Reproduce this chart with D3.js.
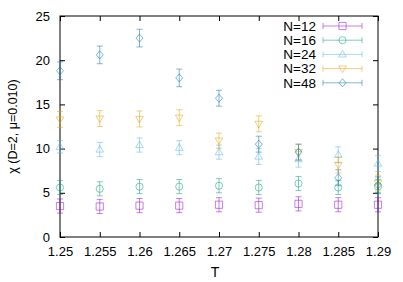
<!DOCTYPE html>
<html>
<head>
<meta charset="utf-8">
<script src="https://cdn.jsdelivr.net/npm/d3@7"></script>
<style>
  body { margin: 0; background: #fff; }
  text { font-family: "Liberation Sans", Arial, sans-serif; fill: #000; }
</style>
</head>
<body>
<script>
// data
var temps = [1.25, 1.255, 1.26, 1.265, 1.27, 1.275, 1.28, 1.285, 1.29];
var xTicks = [1.25, 1.255, 1.26, 1.265, 1.27, 1.275, 1.28, 1.285, 1.29];
var yTicks = [0, 5, 10, 15, 20, 25];

var chiN12 = [3.5, 3.45, 3.55, 3.55, 3.65, 3.6, 3.75, 3.65, 3.65];
var errN12 = [0.8, 0.8, 0.8, 0.8, 0.8, 0.8, 0.8, 0.8, 0.8];
var chiN16 = [5.6, 5.45, 5.7, 5.7, 5.8, 5.6, 6.05, 5.6, 5.7];
var errN16 = [0.8, 0.8, 0.8, 0.8, 0.8, 0.8, 0.8, 0.8, 0.8];
var chiN24 = [10.2, 9.9, 10.4, 10.1, 9.6, 9.1, 8.8, 9.3, 8.3];
var errN24 = [0.7, 0.8, 0.8, 0.8, 0.8, 0.9, 0.9, 0.9, 0.9];
var chiN32 = [13.3, 13.4, 13.35, 13.5, 10.9, 12.8, 9.6, 8.15, 6.1];
var errN32 = [0.9, 0.9, 0.9, 0.9, 0.85, 0.9, 0.9, 0.9, 0.9];
var chiN48 = [18.8, 20.6, 22.5, 18.0, 15.7, 10.5, 9.6, 6.7, 5.9];
var errN48 = [1.0, 1.0, 1.0, 1.0, 0.9, 0.9, 0.9, 0.9, 0.9];

var series = [
  { name: 'N=12', vals: chiN12, errs: errN12, color: '#9400d3', sym: 'square' },
  { name: 'N=16', vals: chiN16, errs: errN16, color: '#009e73', sym: 'circle' },
  { name: 'N=24', vals: chiN24, errs: errN24, color: '#56b4e9', sym: 'up' },
  { name: 'N=32', vals: chiN32, errs: errN32, color: '#e69f00', sym: 'down' },
  { name: 'N=48', vals: chiN48, errs: errN48, color: '#0072b2', sym: 'diamond' }
];

var W = 403, H = 282;
var m = { left: 60, right: 25, top: 16, bottom: 45 };

var x = d3.scaleLinear().domain([1.25, 1.29]).range([m.left, W - m.right]);
var y = d3.scaleLinear().domain([0, 25]).range([H - m.bottom, m.top]);

var svg = d3.select('body').append('svg')
  .attr('width', W)
  .attr('height', H);

// point symbols, gnuplot-like
function markerPath(sym) {
  if (sym === 'up') return 'M0,-4L3.8,2.6L-3.8,2.6Z';
  if (sym === 'down') return 'M0,4L3.8,-2.6L-3.8,-2.6Z';
  if (sym === 'square') return 'M-3.6,-3.6H3.6V3.6H-3.6Z';
  if (sym === 'circle') return d3.symbol().type(d3.symbolCircle).size(40)();
  return 'M0,-4L3.5,0L0,4L-3.5,0Z';
}

// axes (ticks inward, mirrored)
var fmt = function(d){ return String(d); };
svg.append('g')
  .attr('transform', 'translate(0,' + (H - m.bottom) + ')')
  .call(d3.axisBottom(x).tickValues(xTicks).tickSize(-5).tickPadding(10).tickFormat(fmt))
  .call(function(g){ g.select('.domain').remove(); });
svg.append('g')
  .attr('transform', 'translate(0,' + m.top + ')')
  .call(d3.axisTop(x).tickValues(xTicks).tickSize(-5).tickFormat(''))
  .call(function(g){ g.select('.domain').remove(); });
svg.append('g')
  .attr('transform', 'translate(' + m.left + ',0)')
  .call(d3.axisLeft(y).tickValues(yTicks).tickSize(-5).tickPadding(10).tickFormat(fmt))
  .call(function(g){ g.select('.domain').remove(); });
svg.append('g')
  .attr('transform', 'translate(' + (W - m.right) + ',0)')
  .call(d3.axisRight(y).tickValues(yTicks).tickSize(-5).tickFormat(''))
  .call(function(g){ g.select('.domain').remove(); });

svg.selectAll('.tick line').attr('stroke', '#000').attr('stroke-width', 1);
svg.selectAll('.tick text').style('font-size', '13px');

svg.append('rect')
  .attr('x', m.left).attr('y', m.top)
  .attr('width', W - m.left - m.right)
  .attr('height', H - m.top - m.bottom)
  .attr('fill', 'none')
  .attr('stroke', '#000')
  .attr('stroke-width', 1);

// data
var plot = svg.append('g');
series.forEach(function(s){
  var g = plot.append('g')
    .attr('stroke', s.color)
    .attr('stroke-opacity', 0.5)
    .attr('fill', 'none')
    .attr('stroke-width', 1);
  var pts = temps.map(function(t, i){ return { t: t, v: s.vals[i], e: s.errs[i] }; });
  var pg = g.selectAll('g.pt').data(pts).enter().append('g').attr('class', 'pt');
  pg.append('path')
    .attr('d', function(d){
      var cx = x(d.t), y0 = y(d.v - d.e), y1 = y(d.v + d.e);
      return 'M' + cx + ',' + y0 + 'V' + y1 +
        'M' + (cx - 3) + ',' + y0 + 'H' + (cx + 3) +
        'M' + (cx - 3) + ',' + y1 + 'H' + (cx + 3);
    });
  pg.append('path')
    .attr('transform', function(d){ return 'translate(' + x(d.t) + ',' + y(d.v) + ')'; })
    .attr('d', markerPath(s.sym));
});

// legend
var leg = svg.append('g');
series.forEach(function(s, i){
  var ly = 26 + i * 14.2;
  leg.append('text')
    .attr('x', 316).attr('y', ly)
    .attr('dy', '0.35em')
    .attr('text-anchor', 'end')
    .style('font-size', '13.5px')
    .text(s.name);
  var g = leg.append('g')
    .attr('stroke', s.color)
    .attr('stroke-opacity', 0.5)
    .attr('fill', 'none');
  g.append('path')
    .attr('d', 'M323,' + ly + 'H362M323,' + (ly - 3) + 'V' + (ly + 3) + 'M362,' + (ly - 3) + 'V' + (ly + 3));
  g.append('path')
    .attr('transform', 'translate(342.5,' + ly + ')')
    .attr('d', markerPath(s.sym));
});

// labels
svg.append('text')
  .attr('x', x(1.2695)).attr('y', 277)
  .attr('text-anchor', 'middle')
  .style('font-size', '14px')
  .text('T');
svg.append('text')
  .attr('transform', 'translate(17,' + ((m.top + H - m.bottom) / 2) + ') rotate(-90)')
  .attr('text-anchor', 'middle')
  .style('font-size', '12.5px')
  .text('χ (D=2, μ=0.010)');
</script>
</body>
</html>
